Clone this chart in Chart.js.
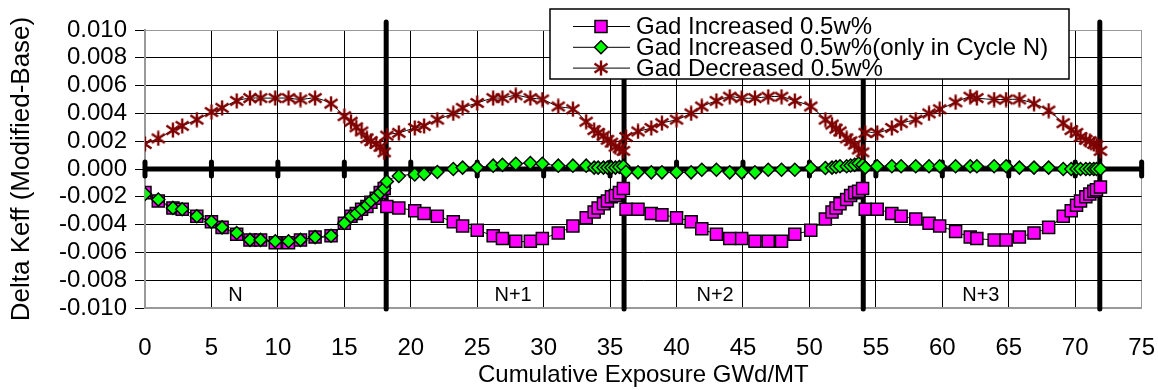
<!DOCTYPE html>
<html>
<head>
<meta charset="utf-8">
<script src="https://cdn.jsdelivr.net/npm/chart.js@4.4.1/dist/chart.umd.min.js"></script>
<style>
    html, body { margin: 0; padding: 0; background: #fff; }
    #wrap { position: relative; width: 1158px; height: 390px; }
</style>
</head>
<body>
<div id="wrap"><canvas id="keffChart"></canvas></div>
<script>
// Burnup steps (GWd/MT), one row per cycle N .. N+3
const exposure = [
    0, 1.0, 2.1, 2.8, 3.9, 5.0, 5.8, 6.9, 7.9, 8.7, 9.8, 10.8, 11.7, 12.8, 14.0, 15.0, 15.5, 15.9, 16.3, 16.7, 17.0, 17.4, 17.7, 18.0,
    18.2, 19.1, 20.3, 21.0, 22.0, 23.2, 23.9, 25.0, 26.2, 26.9, 27.9, 29.0, 29.9, 31.1, 32.2, 33.2, 33.8, 34.1, 34.5, 34.8, 35.1, 35.4, 35.7, 36.0,
    36.2, 37.1, 38.1, 38.9, 40.0, 41.1, 41.9, 43.0, 44.0, 44.9, 45.9, 46.9, 47.9, 48.9, 50.1, 51.2, 51.7, 52.0, 52.3, 52.8, 53.1, 53.4, 53.7, 54.0,
    54.2, 55.1, 56.2, 56.9, 58.0, 59.0, 59.8, 61.0, 62.1, 62.6, 63.9, 64.8, 65.8, 66.9, 68.0, 69.1, 69.7, 70.1, 70.4, 70.8, 71.1, 71.4, 71.6, 71.9,
];

// Gad increased 0.5w% in every cycle
const gadIncreased = [
    -0.0017, -0.0023, -0.0028, -0.0029, -0.0034, -0.0038, -0.0042, -0.0047, -0.0051, -0.0051, -0.0053, -0.0053, -0.0051, -0.0049, -0.0048, -0.0039, -0.0034, -0.0032, -0.0029, -0.0027, -0.0024, -0.0021, -0.0017, -0.0014,
    -0.0027, -0.0028, -0.0030, -0.0032, -0.0034, -0.0038, -0.0041, -0.0044, -0.0048, -0.0050, -0.0052, -0.0052, -0.0050, -0.0046, -0.0041, -0.0035, -0.0031, -0.0028, -0.0025, -0.0023, -0.0020, -0.0019, -0.0017, -0.0014,
    -0.0029, -0.0029, -0.0032, -0.0033, -0.0035, -0.0038, -0.0043, -0.0047, -0.0050, -0.0050, -0.0052, -0.0052, -0.0052, -0.0047, -0.0044, -0.0036, -0.0031, -0.0028, -0.0025, -0.0022, -0.0019, -0.0017, -0.0016, -0.0014,
    -0.0029, -0.0029, -0.0032, -0.0034, -0.0036, -0.0039, -0.0041, -0.0045, -0.0049, -0.0050, -0.0051, -0.0051, -0.0049, -0.0046, -0.0042, -0.0034, -0.0030, -0.0026, -0.0023, -0.0020, -0.0018, -0.0016, -0.0015, -0.0013,
];

// Gad increased 0.5w% only in cycle N
const gadIncreasedCycleN = [
    -0.0018, -0.0022, -0.0028, -0.0029, -0.0034, -0.0038, -0.0042, -0.0046, -0.0051, -0.0051, -0.0052, -0.0052, -0.0051, -0.0049, -0.0048, -0.0039, -0.0034, -0.0032, -0.0029, -0.0026, -0.0023, -0.0020, -0.0017, -0.0014,
    -0.0009, -0.0005, -0.0004, -0.00036, -0.00022, 0.0000, 0.0001, 0.0001, 0.00024, 0.0003, 0.00038, 0.00043, 0.00038, 0.00024, 0.00024, 0.00024, 0.0001, 0.0001, 0.0001, 0.0001, 0.0001, 0.0001, 0.00015, 0.0002,
    -0.0002, -0.00024, -0.00024, -0.00024, -0.00024, -0.00024, -0.00005, -0.00005, -0.00024, -0.00024, -0.00024, -0.00005, -0.00005, -0.00005, 0.00007, 0.00007, 0.0001, 0.00015, 0.0002, 0.0002, 0.00025, 0.0003, 0.0004, 0.0003,
    0.0001, 0.0002, 0.0002, 0.0002, 0.0002, 0.0002, 0.0002, 0.0002, 0.0002, 0.0002, 0.0002, 0.0002, 0.0001, 0.0001, 0.0001, 0.0000, 0.0000, 0.0000, 0.0000, 0.0000, 0.0000, 0.0000, 0.0000, 0.0000,
];

// Gad decreased 0.5w%
const gadDecreased = [
    0.0018, 0.0022, 0.0028, 0.0031, 0.00355, 0.0041, 0.0044, 0.0049, 0.0051, 0.0051, 0.0051, 0.0051, 0.0050, 0.0051, 0.0047, 0.0038, 0.0034, 0.0030, 0.0027, 0.0022, 0.0020, 0.0018, 0.0016, 0.0012,
    0.0024, 0.0026, 0.00295, 0.0031, 0.00355, 0.0040, 0.0044, 0.00475, 0.0051, 0.0051, 0.0053, 0.0051, 0.0050, 0.0045, 0.0043, 0.0034, 0.0028, 0.0026, 0.0024, 0.0021, 0.0019, 0.0016, 0.0015, 0.0013,
    0.0023, 0.0027, 0.00295, 0.0033, 0.00355, 0.0040, 0.0045, 0.0049, 0.0052, 0.0051, 0.0051, 0.0052, 0.0052, 0.0049, 0.0045, 0.00355, 0.0032, 0.0029, 0.0027, 0.0022, 0.0020, 0.00175, 0.0014, 0.0012,
    0.0026, 0.0026, 0.00295, 0.0033, 0.00355, 0.0040, 0.0043, 0.0048, 0.0052, 0.0051, 0.0050, 0.0050, 0.0050, 0.0047, 0.0042, 0.0033, 0.0028, 0.0026, 0.0023, 0.0021, 0.0020, 0.0018, 0.0017, 0.0013,
];

// End of each cycle and the cycle names written in the lower band
const cycleBounds = [18.15, 36.05, 54.05, 71.85];
const cycleNames = ['N', 'N+1', 'N+2', 'N+3'];
const cycleNameX = [6.8, 27.7, 42.9, 62.9];
const cycleNameY = -0.0091;

const FONT = "'Liberation Sans', Arial, sans-serif";
Chart.defaults.font.family = FONT;
Chart.defaults.color = '#000';

// Excel-style "*" marker: vertical stroke plus an X
function asteriskMarker(color) {
    const c = document.createElement('canvas');
    c.width = 16;
    c.height = 16;
    const g = c.getContext('2d');
    g.strokeStyle = color;
    g.lineWidth = 2.4;
    g.beginPath();
    g.moveTo(8, 0.5); g.lineTo(8, 15.5);
    g.moveTo(1.5, 3.5); g.lineTo(14.5, 12.5);
    g.moveTo(14.5, 3.5); g.lineTo(1.5, 12.5);
    g.stroke();
    return c;
}
const asterisk = asteriskMarker('#800000');

const toPoints = values => exposure.map((x, i) => ({ x: x, y: values[i] }));

// Heavy zero line with crossing ticks, cycle boundaries and cycle names
const cycleMarks = {
    id: 'cycleMarks',
    beforeDatasetsDraw(chart) {
        const { ctx, chartArea, scales: { x, y } } = chart;
        const y0 = y.getPixelForValue(0);
        ctx.save();
        ctx.strokeStyle = '#000';
        ctx.lineWidth = 5;
        ctx.beginPath();
        ctx.moveTo(x.getPixelForValue(x.min), y0);
        ctx.lineTo(x.getPixelForValue(x.max), y0);
        ctx.stroke();

        ctx.lineCap = 'round';
        ctx.beginPath();
        x.ticks.forEach(t => {
            const px = x.getPixelForValue(t.value);
            ctx.moveTo(px, y0 - 7);
            ctx.lineTo(px, y0 + 7);
        });
        cycleBounds.forEach(b => {
            const px = x.getPixelForValue(b);
            ctx.moveTo(px, chartArea.top - 8);
            ctx.lineTo(px, chartArea.bottom + 1);
        });
        ctx.stroke();

        ctx.fillStyle = '#000';
        ctx.font = '20px ' + FONT;
        ctx.textAlign = 'center';
        ctx.textBaseline = 'middle';
        cycleNames.forEach((name, i) => {
            ctx.fillText(name, x.getPixelForValue(cycleNameX[i]), y.getPixelForValue(cycleNameY));
        });
        ctx.restore();
    },
};

// Boxed legend sitting across the top edge of the plot
const boxedLegend = {
    id: 'boxedLegend',
    afterDraw(chart) {
        const { ctx, chartArea } = chart;
        const left = chartArea.left + 405;
        const top = 9;
        ctx.save();
        ctx.fillStyle = '#fff';
        ctx.strokeStyle = '#000';
        ctx.lineWidth = 1.5;
        ctx.fillRect(left, top, 519, 70);
        ctx.strokeRect(left, top, 519, 70);

        chart.data.datasets.forEach((ds, i) => {
            const cy = top + 17.5 + i * 20.8;
            ctx.strokeStyle = '#000';
            ctx.lineWidth = 1;
            ctx.beginPath();
            ctx.moveTo(left + 23, cy);
            ctx.lineTo(left + 80, cy);
            ctx.stroke();

            ctx.fillStyle = ds.pointBackgroundColor;
            ctx.strokeStyle = ds.pointBorderColor;
            ctx.lineWidth = ds.pointBorderWidth;
            Chart.helpers.drawPoint(ctx, {
                pointStyle: ds.pointStyle,
                rotation: 0,
                radius: ds.pointRadius,
                borderWidth: ds.pointBorderWidth,
            }, left + 51, cy);

            ctx.fillStyle = '#000';
            ctx.font = '24px ' + FONT;
            ctx.textAlign = 'left';
            ctx.textBaseline = 'middle';
            ctx.fillText(ds.label, left + 86, cy + 1);
        });
        ctx.restore();
    },
};

const ctx = document.getElementById('keffChart').getContext('2d');

new Chart(ctx, {
    type: 'line',
    data: {
        datasets: [
            {
                label: 'Gad Increased 0.5w%',
                data: toPoints(gadIncreased),
                borderColor: '#000',
                borderWidth: 1,
                tension: 0.3,
                pointStyle: 'rect',
                pointRadius: 8.5,
                pointBackgroundColor: '#ff00ff',
                pointBorderColor: '#000',
                pointBorderWidth: 1.5,
                order: 3,
            },
            {
                label: 'Gad Increased 0.5w%(only in Cycle N)',
                data: toPoints(gadIncreasedCycleN),
                borderColor: '#000',
                borderWidth: 1,
                tension: 0.3,
                pointStyle: 'rectRot',
                pointRadius: 6.5,
                pointBackgroundColor: '#00ff00',
                pointBorderColor: '#000',
                pointBorderWidth: 1.5,
                order: 2,
            },
            {
                label: 'Gad Decreased 0.5w%',
                data: toPoints(gadDecreased),
                borderColor: '#000',
                borderWidth: 1,
                tension: 0.3,
                pointStyle: asterisk,
                pointRadius: 8,
                pointBackgroundColor: '#800000',
                pointBorderColor: '#800000',
                pointBorderWidth: 2,
                order: 1,
            },
        ],
    },
    options: {
        responsive: true,
        maintainAspectRatio: false,
        animation: false,
        layout: {
            padding: { top: 30, right: 3, left: 0, bottom: 0 },
        },
        plugins: {
            legend: { display: false },
            tooltip: { enabled: false },
        },
        scales: {
            x: {
                type: 'linear',
                min: 0,
                max: 75,
                afterFit: scale => { scale.height = 82; },
                ticks: {
                    stepSize: 5,
                    autoSkip: false,
                    maxRotation: 0,
                    padding: 3,
                    font: { size: 24 },
                    color: '#000',
                },
                grid: {
                    color: c => (c.tick && (c.tick.value === 0 || c.tick.value === 75)) ? '#999' : '#000',
                    lineWidth: 1,
                    // ticks live on the zero line, so the bottom marks only space the labels
                    drawTicks: true,
                    tickLength: 23,
                    tickColor: 'rgba(0,0,0,0)',
                },
                border: { color: '#999', width: 2 },
                title: {
                    display: true,
                    text: 'Cumulative Exposure GWd/MT',
                    font: { size: 24 },
                    color: '#000',
                    padding: { top: 0, bottom: 0 },
                },
            },
            y: {
                min: -0.01,
                max: 0.01,
                afterFit: scale => { scale.width = 145; },
                ticks: {
                    stepSize: 0.002,
                    autoSkip: false,
                    padding: 8,
                    font: { size: 24 },
                    color: '#000',
                    callback: v => (Math.abs(v) < 1e-9 ? 0 : v).toFixed(3),
                },
                grid: {
                    color: c => (c.tick && Math.abs(c.tick.value - 0.01) < 1e-9) ? '#999' : '#000',
                    tickColor: '#000',
                    tickLength: 10,
                    lineWidth: 1,
                },
                border: { color: '#999', width: 2 },
                title: {
                    display: true,
                    text: 'Delta Keff (Modified-Base)',
                    font: { size: 26 },
                    color: '#000',
                    padding: { top: 6, bottom: 0 },
                },
            },
        },
    },
    plugins: [cycleMarks, boxedLegend],
});
</script>
</body>
</html>
